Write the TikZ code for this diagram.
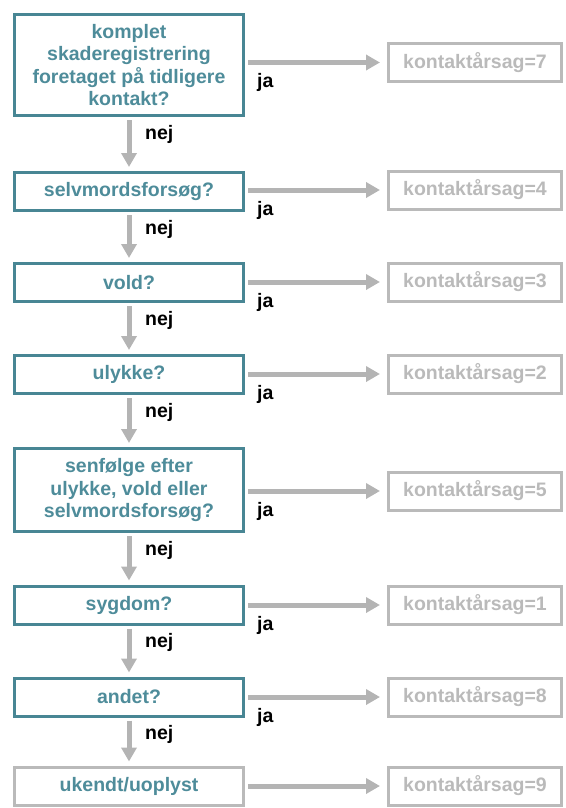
\documentclass[tikz,border=0pt]{standalone}
\usepackage{fontspec}
\setmainfont{Liberation Sans}
\usetikzlibrary{arrows.meta}
\definecolor{qborder}{RGB}{72,134,148}
\definecolor{qtext}{RGB}{78,140,154}
\definecolor{flowgray}{RGB}{180,180,180}
\definecolor{resgray}{RGB}{186,186,186}
\newcommand{\boxfont}{\fontsize{19.5}{22.5}\selectfont\bfseries}
\tikzset{
  qbox/.style={draw=qborder, line width=3pt, fill=white, text=qtext,
    minimum width=229pt, inner sep=0pt, align=center, font=\boxfont},
  qlast/.style={qbox, draw=resgray},
  abox/.style={draw=resgray, line width=3pt, fill=white, text=resgray,
    minimum width=173pt, minimum height=38pt, inner sep=0pt, font=\boxfont},
  flow/.style={draw=flowgray, line width=5pt,
    -{Triangle[length=14pt,width=15pt]}},
  down/.style={flow, shorten <=3pt, shorten >=4pt},
  right/.style={flow, shorten <=3pt, shorten >=7pt},
  lbl/.style={anchor=base west, inner sep=0pt, text=black, font=\boxfont}
}
\begin{document}
\begin{tikzpicture}[x=1pt,y=1pt]
\useasboundingbox (0,0) rectangle (565,-808);
% question column
\node[qbox, minimum height=101pt] (q1) at (129,-65)
  {komplet\\skaderegistrering\\foretaget på tidligere\\kontakt?};
\node[qbox, minimum height=38pt] (q2) at (129,-191.5) {selvmordsforsøg?};
\node[qbox, minimum height=38pt] (q3) at (129,-282.5) {vold?};
\node[qbox, minimum height=38pt] (q4) at (129,-374.5) {ulykke?};
\node[qbox, minimum height=83pt] (q5) at (129,-490)
  {senfølge efter\\ulykke, vold eller\\selvmordsforsøg?};
\node[qbox, minimum height=38pt] (q6) at (129,-605) {sygdom?};
\node[qbox, minimum height=38pt] (q7) at (129,-697) {andet?};
\node[qlast, minimum height=38pt] (q8) at (129,-786) {ukendt/uoplyst};
% result column
\node[abox] (r1) at (475,-62.5) {kontaktårsag=7};
\node[abox] (r2) at (475,-190) {kontaktårsag=4};
\node[abox] (r3) at (475,-282) {kontaktårsag=3};
\node[abox] (r4) at (475,-374) {kontaktårsag=2};
\node[abox] (r5) at (475,-491) {kontaktårsag=5};
\node[abox] (r6) at (475,-605) {kontaktårsag=1};
\node[abox] (r7) at (475,-697) {kontaktårsag=8};
\node[abox] (r8) at (475,-786) {kontaktårsag=9};
% "nej" connectors
\foreach \a/\b in {q1/q2,q2/q3,q3/q4,q4/q5,q5/q6,q6/q7,q7/q8}{
  \draw[down] (\a.south) -- (\b.north);
  \node[lbl] at ([yshift=-22pt]\a.south -| 145,0) {nej};
}
% "ja" connectors
\foreach \i in {1,...,8}{
  \draw[right] (q\i.east |- r\i.west) -- (r\i.west);
}
\foreach \i in {1,...,7}{
  \node[lbl] at ([yshift=-25pt]r\i.west -| 257,0) {ja};
}
\end{tikzpicture}
\end{document}
